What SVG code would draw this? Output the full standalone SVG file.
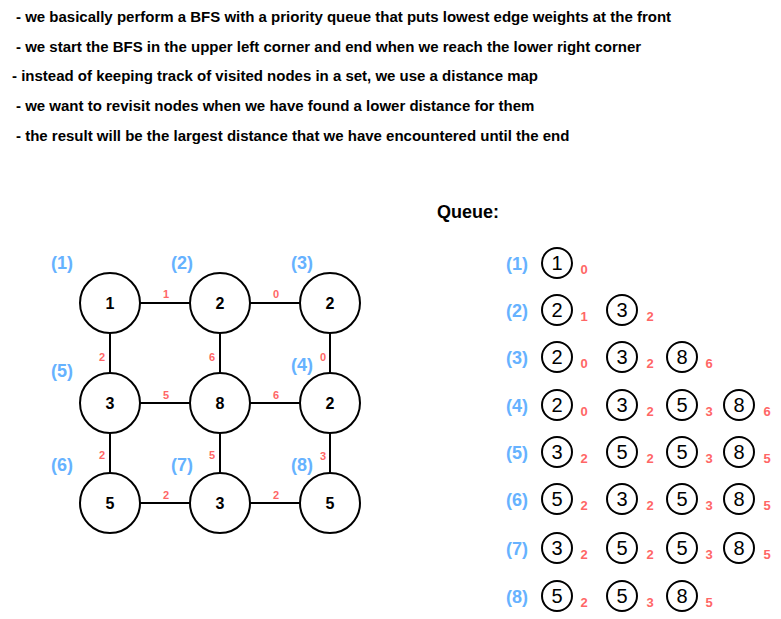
<svg xmlns="http://www.w3.org/2000/svg" width="781" height="619" viewBox="0 0 781 619">
<style>
.note{font-family:"Liberation Sans",Arial,sans-serif;font-size:15px;font-weight:bold;fill:#000}
.node{fill:#fff;stroke:#000;stroke-width:2}
.nt{font-family:"Liberation Sans",Arial,sans-serif;font-size:16px;font-weight:bold;text-anchor:middle;fill:#000}
.qt{font-family:"Liberation Sans",Arial,sans-serif;font-size:20px;text-anchor:middle;fill:#000}
.lbl{font-family:"Liberation Sans",Arial,sans-serif;font-size:18px;font-weight:bold;text-anchor:middle;fill:#66B2FF}
.w{font-family:"Liberation Sans",Arial,sans-serif;font-size:11px;font-weight:bold;text-anchor:middle;fill:#FF6666}
.sub{font-family:"Liberation Sans",Arial,sans-serif;font-size:13px;font-weight:bold;text-anchor:middle;fill:#FF6666}
.edge{stroke:#000;stroke-width:2;fill:none}
</style>
<rect width="781" height="619" fill="#fff"/>
<g id="notes">
<text class="note" x="16" y="22">- we basically perform a BFS with a priority queue that puts lowest edge weights at the front</text>
<text class="note" x="16" y="52">- we start the BFS in the upper left corner and end when we reach the lower right corner</text>
<text class="note" x="12" y="81">- instead of keeping track of visited nodes in a set, we use a distance map</text>
<text class="note" x="16" y="111">- we want to revisit nodes when we have found a lower distance for them</text>
<text class="note" x="16" y="141">- the result will be the largest distance that we have encountered until the end</text>
</g>
<g id="connectors">
<line class="edge" x1="140" y1="303" x2="190" y2="303"/>
<line class="edge" x1="250" y1="303" x2="300" y2="303"/>
<line class="edge" x1="140" y1="403" x2="190" y2="403"/>
<line class="edge" x1="250" y1="403" x2="300" y2="403"/>
<line class="edge" x1="140" y1="503" x2="190" y2="503"/>
<line class="edge" x1="250" y1="503" x2="300" y2="503"/>
<line class="edge" x1="110" y1="333" x2="110" y2="373"/>
<line class="edge" x1="220" y1="333" x2="220" y2="373"/>
<line class="edge" x1="330" y1="333" x2="330" y2="373"/>
<line class="edge" x1="110" y1="433" x2="110" y2="473"/>
<line class="edge" x1="220" y1="433" x2="220" y2="473"/>
<line class="edge" x1="330" y1="433" x2="330" y2="473"/>
<text class="w" x="166" y="298">1</text>
<text class="w" x="276" y="298">0</text>
<text class="w" x="166" y="399">5</text>
<text class="w" x="276" y="399">6</text>
<text class="w" x="166" y="499">2</text>
<text class="w" x="276" y="499">2</text>
<text class="w" x="102" y="361">2</text>
<text class="w" x="212" y="361">6</text>
<text class="w" x="323" y="361">0</text>
<text class="w" x="102" y="459">2</text>
<text class="w" x="212" y="459">5</text>
<text class="w" x="323" y="460">3</text>
</g>
<g id="n1"><circle class="node" cx="110" cy="303" r="30"/><text class="nt" x="110" y="309">1</text></g>
<g id="n2"><circle class="node" cx="220" cy="303" r="30"/><text class="nt" x="220" y="309">2</text></g>
<g id="n3"><circle class="node" cx="330" cy="303" r="30"/><text class="nt" x="330" y="309">2</text></g>
<g id="n4"><circle class="node" cx="110" cy="403" r="30"/><text class="nt" x="110" y="409">3</text></g>
<g id="n5"><circle class="node" cx="220" cy="403" r="30"/><text class="nt" x="220" y="409">8</text></g>
<g id="n6"><circle class="node" cx="330" cy="403" r="30"/><text class="nt" x="330" y="409">2</text></g>
<g id="n7"><circle class="node" cx="110" cy="503" r="30"/><text class="nt" x="110" y="509">5</text></g>
<g id="n8"><circle class="node" cx="220" cy="503" r="30"/><text class="nt" x="220" y="509">3</text></g>
<g id="n9"><circle class="node" cx="330" cy="503" r="30"/><text class="nt" x="330" y="509">5</text></g>
<g id="step-labels">
<text class="lbl" x="62" y="269">(1)</text>
<text class="lbl" x="182" y="269">(2)</text>
<text class="lbl" x="302" y="269">(3)</text>
<text class="lbl" x="302" y="371">(4)</text>
<text class="lbl" x="62" y="377">(5)</text>
<text class="lbl" x="62" y="471">(6)</text>
<text class="lbl" x="182" y="471">(7)</text>
<text class="lbl" x="302" y="471">(8)</text>
</g>
<g id="queue">
<text x="468" y="218" style="font-family:'Liberation Sans',Arial,sans-serif;font-size:18px;font-weight:bold;text-anchor:middle">Queue:</text>
<g id="q1"><text class="lbl" x="517" y="270">(1)</text>
<circle class="node" cx="557" cy="263" r="15"/><text class="qt" x="557" y="270">1</text><text class="sub" x="584" y="274">0</text></g>
<g id="q2"><text class="lbl" x="517" y="317">(2)</text>
<circle class="node" cx="557" cy="310" r="15"/><text class="qt" x="557" y="317">2</text><text class="sub" x="584" y="321">1</text>
<circle class="node" cx="622" cy="310" r="15"/><text class="qt" x="622" y="317">3</text><text class="sub" x="650" y="321">2</text></g>
<g id="q3"><text class="lbl" x="517" y="364">(3)</text>
<circle class="node" cx="557" cy="357" r="15"/><text class="qt" x="557" y="364">2</text><text class="sub" x="584" y="368">0</text>
<circle class="node" cx="622" cy="357" r="15"/><text class="qt" x="622" y="364">3</text><text class="sub" x="650" y="368">2</text>
<circle class="node" cx="682" cy="357" r="15"/><text class="qt" x="682" y="364">8</text><text class="sub" x="709" y="368">6</text></g>
<g id="q4"><text class="lbl" x="517" y="412">(4)</text>
<circle class="node" cx="557" cy="405" r="15"/><text class="qt" x="557" y="412">2</text><text class="sub" x="584" y="416">0</text>
<circle class="node" cx="622" cy="405" r="15"/><text class="qt" x="622" y="412">3</text><text class="sub" x="650" y="416">2</text>
<circle class="node" cx="682" cy="405" r="15"/><text class="qt" x="682" y="412">5</text><text class="sub" x="709" y="416">3</text>
<circle class="node" cx="739" cy="405" r="15"/><text class="qt" x="739" y="412">8</text><text class="sub" x="767" y="416">6</text></g>
<g id="q5"><text class="lbl" x="517" y="459">(5)</text>
<circle class="node" cx="557" cy="452" r="15"/><text class="qt" x="557" y="459">3</text><text class="sub" x="584" y="463">2</text>
<circle class="node" cx="622" cy="452" r="15"/><text class="qt" x="622" y="459">5</text><text class="sub" x="650" y="463">2</text>
<circle class="node" cx="682" cy="452" r="15"/><text class="qt" x="682" y="459">5</text><text class="sub" x="709" y="463">3</text>
<circle class="node" cx="739" cy="452" r="15"/><text class="qt" x="739" y="459">8</text><text class="sub" x="767" y="463">5</text></g>
<g id="q6"><text class="lbl" x="517" y="506">(6)</text>
<circle class="node" cx="557" cy="499" r="15"/><text class="qt" x="557" y="506">5</text><text class="sub" x="584" y="510">2</text>
<circle class="node" cx="622" cy="499" r="15"/><text class="qt" x="622" y="506">3</text><text class="sub" x="650" y="510">2</text>
<circle class="node" cx="682" cy="499" r="15"/><text class="qt" x="682" y="506">5</text><text class="sub" x="709" y="510">3</text>
<circle class="node" cx="739" cy="499" r="15"/><text class="qt" x="739" y="506">8</text><text class="sub" x="767" y="510">5</text></g>
<g id="q7"><text class="lbl" x="517" y="555">(7)</text>
<circle class="node" cx="557" cy="548" r="15"/><text class="qt" x="557" y="555">3</text><text class="sub" x="584" y="559">2</text>
<circle class="node" cx="622" cy="548" r="15"/><text class="qt" x="622" y="555">5</text><text class="sub" x="650" y="559">2</text>
<circle class="node" cx="682" cy="548" r="15"/><text class="qt" x="682" y="555">5</text><text class="sub" x="709" y="559">3</text>
<circle class="node" cx="739" cy="548" r="15"/><text class="qt" x="739" y="555">8</text><text class="sub" x="767" y="559">5</text></g>
<g id="q8"><text class="lbl" x="517" y="603">(8)</text>
<circle class="node" cx="557" cy="596" r="15"/><text class="qt" x="557" y="603">5</text><text class="sub" x="584" y="607">2</text>
<circle class="node" cx="622" cy="596" r="15"/><text class="qt" x="622" y="603">5</text><text class="sub" x="650" y="607">3</text>
<circle class="node" cx="682" cy="596" r="15"/><text class="qt" x="682" y="603">8</text><text class="sub" x="709" y="607">5</text></g>
</g>
</svg>
